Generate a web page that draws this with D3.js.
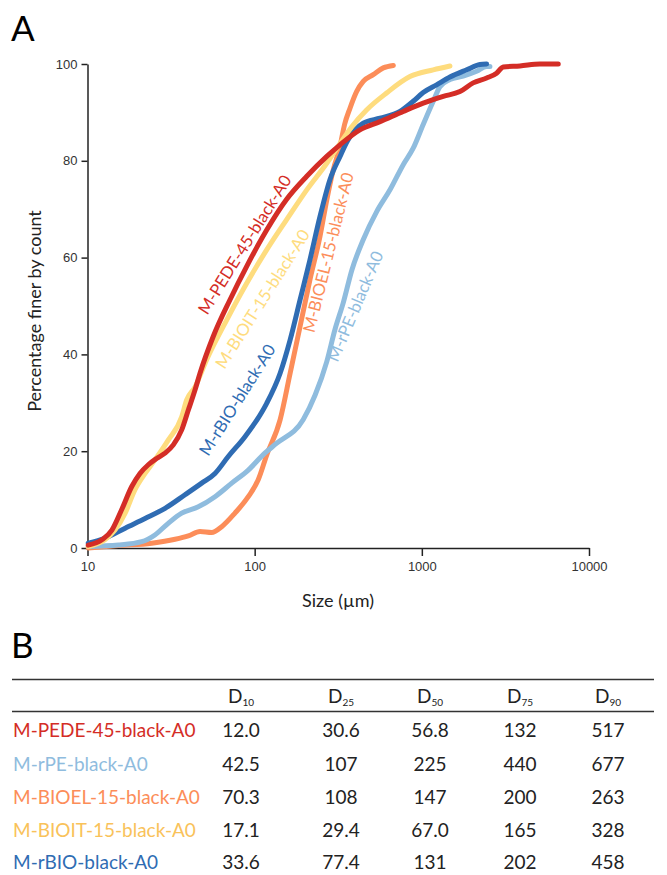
<!DOCTYPE html>
<html>
<head>
<meta charset="utf-8">
<script src="https://cdn.jsdelivr.net/npm/d3@7"></script>
<style>
  body { margin: 0; background: #fff; }
  svg { font-family: Lato, "Open Sans", sans-serif; }
  .axis text { font-size: 13px; fill: #333; }
  .axis path, .axis line { stroke: #222; stroke-width: 1.5; }
</style>
</head>
<body>
<svg id="chart" width="667" height="875"></svg>
<script>
// cumulative size curves (size in um, % finer)
const pedeSize = [10.1, 12.2, 14.0, 16.0, 18.4, 20.6, 23.1, 25.9, 29.1, 32.6, 36.6, 40.1, 44.0, 47.1, 56.5, 71.2, 89.6, 118, 155, 205, 270, 324, 426, 562, 774, 1019, 1343, 1690, 2028, 2441, 2800, 3069, 3863, 5084, 6547];
const pedePct  = [0.6, 1.7, 3.7, 7.9, 12.7, 15.4, 17.2, 18.5, 19.6, 21.3, 24.4, 28.5, 32.7, 36.1, 43.7, 51.3, 58.2, 65.7, 72.0, 76.8, 80.9, 83.3, 86.4, 88.1, 90.2, 91.9, 93.3, 94.3, 96.1, 97.1, 98.1, 99.4, 99.6, 100, 100];

const rpeSize = [10.1, 15.3, 21.1, 25.3, 30.4, 36.6, 46.0, 57.9, 72.9, 91.6, 115, 135, 195, 230, 270, 302, 339, 382, 446, 537, 645, 774, 888, 1019, 1170, 1283, 1473, 1768, 2127, 2441, 2555];
const rpePct  = [0.3, 0.6, 1.3, 2.7, 5.1, 7.2, 8.5, 10.6, 13.4, 16.1, 19.6, 21.6, 26.5, 31.6, 38.5, 45.1, 50.7, 57.5, 63.7, 69.5, 74.0, 79.2, 82.6, 87.5, 92.3, 95.3, 96.8, 97.5, 98.5, 99.5, 99.5];

const bioelSize = [10.1, 15.3, 24.2, 33.4, 40.1, 47.1, 55.3, 63.5, 76.2, 91.6, 105, 118, 142, 163, 187, 214, 246, 270, 295, 324, 345, 372, 407, 446, 512, 588, 675];
const bioelPct  = [0, 0.5, 1.0, 1.8, 2.5, 3.4, 3.2, 4.4, 7.2, 10.6, 14.1, 19.2, 26.5, 36.1, 45.8, 55.4, 64.4, 71.9, 78.1, 83.0, 87.5, 90.9, 94.3, 96.4, 97.8, 99.2, 99.7];

const bioitSize = [10.1, 12.7, 14.6, 16.8, 19.2, 22.1, 25.3, 30.4, 36.6, 39.2, 44.0, 51.6, 68.0, 89.6, 118, 155, 205, 270, 316, 380, 467, 615, 849, 1170, 1473];
const bioitPct  = [0.3, 1.7, 3.7, 7.2, 12.0, 15.4, 18.2, 22.3, 27.1, 30.6, 33.3, 38.9, 47.1, 54.7, 61.6, 67.8, 74.0, 79.5, 83.0, 87.0, 90.5, 94.0, 97.4, 98.8, 99.6];

const rbioSize = [10.1, 12.7, 16.8, 22.1, 29.1, 38.3, 48.2, 57.9, 69.5, 87.5, 110, 118, 142, 163, 187, 214, 246, 282, 324, 360, 446, 562, 740, 888, 1019, 1226, 1473, 1854, 2226, 2441];
const rbioPct  = [1.0, 2.0, 4.1, 6.1, 8.2, 11.0, 13.4, 15.4, 18.9, 23.0, 28.0, 29.9, 36.1, 43.0, 51.3, 59.5, 68.5, 76.1, 80.9, 84.2, 87.8, 88.8, 90.2, 92.3, 94.1, 95.7, 97.3, 98.8, 99.9, 100];

const sampleNames = ["M-PEDE-45-black-A0", "M-rPE-black-A0", "M-BIOEL-15-black-A0", "M-BIOIT-15-black-A0", "M-rBIO-black-A0"];
const sampleColors = ["#d42d26", "#8fbcde", "#fc8d59", "#fedc7e", "#2f6cb3"];
const tableColors = ["#d42d26", "#8fbcde", "#fc8d59", "#f9c25a", "#2f6cb3"];

// table B
const dLabels = ["10", "25", "50", "75", "90"];
const dValues = [
  ["12.0", "30.6", "56.8", "132", "517"],
  ["42.5", "107", "225", "440", "677"],
  ["70.3", "108", "147", "200", "263"],
  ["17.1", "29.4", "67.0", "165", "328"],
  ["33.6", "77.4", "131", "202", "458"]
];

const xTicks = [10, 100, 1000, 10000];
const yTicks = [0, 20, 40, 60, 80, 100];

const series = [
  { size: pedeSize, pct: pedePct },
  { size: rpeSize, pct: rpePct },
  { size: bioelSize, pct: bioelPct },
  { size: bioitSize, pct: bioitPct },
  { size: rbioSize, pct: rbioPct }
].map((s, i) => ({ name: sampleNames[i], color: sampleColors[i],
  pts: s.size.map((v, j) => [v, s.pct[j]]) }));

const svg = d3.select("#chart");

const x = d3.scaleLog().domain([10, 10000]).range([87.5, 589]);
const y = d3.scaleLinear().domain([0, 100]).range([548, 64]);

// panel letters
svg.append("text").attr("x", 11).attr("y", 41).attr("font-size", 35).text("A");
svg.append("text").attr("x", 11).attr("y", 658).attr("font-size", 35).text("B");

// axes
svg.append("g").attr("class", "axis")
  .attr("transform", "translate(0,548)")
  .call(d3.axisBottom(x).tickValues(xTicks).tickFormat(d3.format("d")).tickSize(8).tickSizeOuter(0).tickPadding(6));

svg.append("g").attr("class", "axis")
  .attr("transform", "translate(87.5,0)")
  .call(d3.axisLeft(y).tickValues(yTicks).tickSize(6).tickSizeOuter(0).tickPadding(4));

svg.append("text").attr("x", 338).attr("y", 607).attr("text-anchor", "middle")
  .attr("font-size", 18).attr("fill", "#222").text("Size (µm)");
svg.append("text").attr("transform", "translate(41,311) rotate(-90)").attr("text-anchor", "middle")
  .attr("font-size", 18).attr("fill", "#222").text("Percentage finer by count");

// curves
const line = d3.line().x(d => x(d[0])).y(d => y(d[1])).curve(d3.curveMonotoneX);
const drawOrder = [2, 1, 4, 3, 0];
svg.append("g").selectAll("path")
  .data(drawOrder.map(i => series[i]))
  .join("path")
  .attr("d", d => line(d.pts))
  .attr("fill", "none")
  .attr("stroke", d => d.color)
  .attr("stroke-width", 5)
  .attr("stroke-linecap", "round")
  .attr("stroke-linejoin", "round");

// labels along the curves
const curveLabels = [
  { i: 0, at: [52.0, 48.0], angle: -58 },
  { i: 3, at: [66.0, 36.8], angle: -57.6 },
  { i: 4, at: [52.8, 18.8], angle: -57.8 },
  { i: 2, at: [227, 44.3], angle: -76 },
  { i: 1, at: [313, 38.2], angle: -67 }
];
svg.append("g").selectAll("text")
  .data(curveLabels)
  .join("text")
  .attr("transform", d => `translate(${x(d.at[0])},${y(d.at[1])}) rotate(${d.angle})`)
  .attr("font-size", 16.7)
  .attr("fill", d => sampleColors[d.i])
  .text(d => sampleNames[d.i]);

// table
const colX = [241, 341, 430, 520, 608];
const rowY = [737, 771, 804, 837, 869];
const tbl = svg.append("g").attr("font-size", 19).attr("fill", "#222");
tbl.append("line").attr("x1", 12).attr("x2", 654).attr("y1", 679.5).attr("y2", 679.5).attr("stroke", "#333").attr("stroke-width", 1.5);
tbl.append("line").attr("x1", 12).attr("x2", 654).attr("y1", 711.5).attr("y2", 711.5).attr("stroke", "#333").attr("stroke-width", 1.5);

const head = tbl.selectAll("text.h").data(dLabels).join("text")
  .attr("class", "h").attr("x", (d, i) => colX[i]).attr("y", 703).attr("text-anchor", "middle");
head.append("tspan").text("D");
head.append("tspan").attr("font-size", 10).attr("dy", 3).text(d => d);

tbl.selectAll("text.n").data(sampleNames).join("text")
  .attr("class", "n").attr("x", 13).attr("y", (d, i) => rowY[i])
  .attr("fill", (d, i) => tableColors[i])
  .text(d => d);

dValues.forEach((row, r) => {
  tbl.selectAll(null).data(row).join("text")
    .attr("x", (d, i) => colX[i]).attr("y", rowY[r]).attr("text-anchor", "middle")
    .text(d => d);
});
</script>
</body>
</html>
